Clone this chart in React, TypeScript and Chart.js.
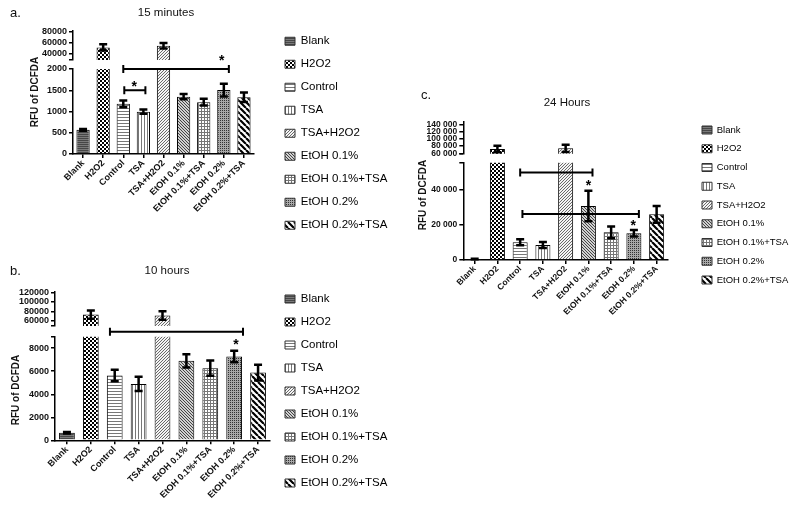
import { useEffect, useRef } from "react";
import { Chart, registerables } from "chart.js";

Chart.register(...registerables);

const FONT = "'Liberation Sans', Arial, sans-serif";

// categories shared by the three panels
const categories = [
  "Blank",
  "H2O2",
  "Control",
  "TSA",
  "TSA+H2O2",
  "EtOH 0.1%",
  "EtOH 0.1%+TSA",
  "EtOH 0.2%",
  "EtOH 0.2%+TSA",
];

// a. 15 minutes
const valuesA = [570, 52000, 1180, 995, 55000, 1350, 1220, 1505, 1335];
const errorsA = [20, 5500, 80, 50, 5000, 60, 80, 150, 110];
const lowTicksA = [0, 500, 1000, 1500, 2000];
const highTicksA = [40000, 60000, 80000];
const bracketsA: [number, number, number][] = [
  [2, 7.25, 2000],
  [2.05, 3.1, 1500],
];
const starsA: [number, number][] = [
  [6.9, 2280],
  [2.55, 1670],
];

// b. 10 hours
const valuesB = [660, 73000, 5620, 4900, 71000, 6900, 6270, 7270, 5880];
const errorsB = [60, 9000, 500, 620, 9000, 580, 670, 500, 680];
const lowTicksB = [0, 2000, 4000, 6000, 8000];
const highTicksB = [60000, 80000, 100000, 120000];
const bracketsB: [number, number, number][] = [[1.8, 7.37, 9420]];
const starsB: [number, number][] = [[7.08, 8640]];

// c. 24 Hours
const valuesC = [600, 72000, 10100, 8600, 74000, 30900, 15800, 15300, 26100];
const errorsC = [150, 9000, 1700, 1700, 10000, 8700, 3300, 1900, 4800];
const lowTicksC = [0, 20000, 40000];
const highTicksC = [60000, 80000, 100000, 120000, 140000];
const bracketsC: [number, number, number][] = [
  [2.0, 5.18, 50000],
  [2.1, 7.22, 26300],
];
const starsC: [number, number][] = [
  [5.0, 44400],
  [6.97, 21900],
];

function tile(size: number, paint: (c: CanvasRenderingContext2D) => void) {
  const cv = document.createElement("canvas");
  cv.width = size;
  cv.height = size;
  const c = cv.getContext("2d")!;
  paint(c);
  return c.createPattern(cv, "repeat")!;
}

function makePatterns(): CanvasPattern[] {
  const bg = (c: CanvasRenderingContext2D, s: number, col: string) => {
    c.fillStyle = col;
    c.fillRect(0, 0, s, s);
  };
  return [
    tile(2, (c) => {
      bg(c, 2, "#7a7a7a");
      c.fillStyle = "#474747";
      c.fillRect(0, 0, 2, 1);
    }),
    tile(4, (c) => {
      bg(c, 4, "#fff");
      c.fillStyle = "#000";
      c.fillRect(0, 0, 2, 2);
      c.fillRect(2, 2, 2, 2);
    }),
    tile(3, (c) => {
      bg(c, 3, "#fff");
      c.fillStyle = "#777";
      c.fillRect(0, 0, 3, 1);
    }),
    tile(3, (c) => {
      bg(c, 3, "#fff");
      c.fillStyle = "#777";
      c.fillRect(0, 0, 1, 3);
    }),
    tile(3, (c) => {
      bg(c, 3, "#f4f4f4");
      c.fillStyle = "#6a6a6a";
      c.fillRect(2, 0, 1, 1);
      c.fillRect(1, 1, 1, 1);
      c.fillRect(0, 2, 1, 1);
    }),
    tile(3, (c) => {
      bg(c, 3, "#d0d0d0");
      c.fillStyle = "#444";
      c.fillRect(0, 0, 1, 1);
      c.fillRect(1, 1, 1, 1);
      c.fillRect(2, 2, 1, 1);
    }),
    tile(3, (c) => {
      bg(c, 3, "#fff");
      c.fillStyle = "#777";
      c.fillRect(0, 0, 3, 1);
      c.fillRect(0, 0, 1, 3);
    }),
    tile(2, (c) => {
      bg(c, 2, "#a8a8a8");
      c.fillStyle = "#333";
      c.fillRect(0, 0, 1, 1);
    }),
    tile(6, (c) => {
      bg(c, 6, "#fff");
      c.strokeStyle = "#000";
      c.lineWidth = 2.2;
      c.beginPath();
      for (const k of [-6, 0, 6]) {
        c.moveTo(k, 0);
        c.lineTo(k + 6, 6);
      }
      c.stroke();
    }),
  ];
}

interface Geometry {
  left: number;
  top: number;
  width: number;
  height: number;
  padTop: number;
  spacer: number;
  high: number;
  gap: number;
  low: number;
  axisW: number;
  plotRight: number;
  rightGap: number;
}

interface PanelProps {
  g: Geometry;
  values: number[];
  errors: number[];
  lowTicks: number[];
  highTicks: number[];
  lowMax: number;
  highMin: number;
  highMax: number;
  brackets: [number, number, number][];
  stars: [number, number][];
  letter: string;
  letterPos: [number, number];
  title: string;
  titlePos: [number, number];
  yTitlePos: [number, number];
  tickSize: number;
  xTickSize: number;
  legendSize: number;
  legendPad: number;
  spaced: boolean;
}

function Panel(p: PanelProps) {
  const canvasRef = useRef<HTMLCanvasElement | null>(null);
  const chartRef = useRef<Chart | null>(null);

  useEffect(() => {
    if (!canvasRef.current) return;
    if (chartRef.current) chartRef.current.destroy();
    const g = p.g;
    const pats = makePatterns();
    const bottom = g.padTop + g.spacer + g.high + g.gap + g.low;
    const xH = g.height - bottom;
    // the legend fills everything right of the gap
    const legendW = g.width - g.plotRight - g.rightGap;
    const fmt = (v: number) =>
      p.spaced ? v.toLocaleString("en-US").replace(/,/g, " ") : String(v);

    const axisGrid = {
      display: true,
      drawOnChartArea: false,
      drawTicks: true,
      tickLength: 4,
      color: "#000",
      lineWidth: 1.5,
    };
    const axisBorder = { display: true, color: "#000", width: 1.5 };
    const tickFont = { family: FONT, size: p.tickSize, weight: "bold" as const };

    const lin = (extra: Record<string, unknown>) => ({
      type: "linear" as const,
      position: "left" as const,
      stack: "left",
      border: { display: false },
      grid: { display: false },
      ticks: { display: false },
      afterFit: (s: any) => {
        s.width = g.axisW;
      },
      ...extra,
    });

    const highData = p.values.map((v) => (v > p.lowMax ? v : null));

    const overlay = {
      id: "overlay",
      beforeLayout(chart: any) {
        const lg = chart.legend;
        if (lg && !lg._fixedW) {
          const fit = lg.fit.bind(lg);
          lg.fit = () => {
            fit();
            lg.width = legendW;
          };
          lg._fixedW = true;
        }
      },
      afterDatasetsDraw(chart: Chart) {
        const ctx = chart.ctx;
        const xs = chart.scales.x;
        const lo = chart.scales.yLow;
        const hi = chart.scales.yHigh;
        ctx.save();
        ctx.strokeStyle = "#000";
        ctx.lineWidth = 2.5;
        p.values.forEach((v, i) => {
          const sc = v > p.lowMax ? hi : lo;
          const x = xs.getPixelForValue(i);
          const yT = sc.getPixelForValue(v + p.errors[i]);
          const yB = sc.getPixelForValue(v - p.errors[i]);
          const cl = (y: number) => Math.min(Math.max(y, sc.top), sc.bottom);
          ctx.beginPath();
          ctx.moveTo(x, cl(yT));
          ctx.lineTo(x, cl(yB));
          if (yT >= sc.top) {
            ctx.moveTo(x - 4, yT);
            ctx.lineTo(x + 4, yT);
          }
          if (yB <= sc.bottom) {
            ctx.moveTo(x - 4, yB);
            ctx.lineTo(x + 4, yB);
          }
          ctx.stroke();
        });
        ctx.lineWidth = 2;
        p.brackets.forEach(([a, b, val]) => {
          const y = lo.getPixelForValue(val);
          const x1 = xs.getPixelForValue(a);
          const x2 = xs.getPixelForValue(b);
          ctx.beginPath();
          ctx.moveTo(x1, y);
          ctx.lineTo(x2, y);
          ctx.moveTo(x1, y - 4);
          ctx.lineTo(x1, y + 4);
          ctx.moveTo(x2, y - 4);
          ctx.lineTo(x2, y + 4);
          ctx.stroke();
        });
        ctx.fillStyle = "#000";
        ctx.font = `bold 14px ${FONT}`;
        ctx.textAlign = "center";
        ctx.textBaseline = "alphabetic";
        p.stars.forEach(([a, val]) => {
          ctx.fillText("*", xs.getPixelForValue(a), lo.getPixelForValue(val) + 8);
        });
        ctx.restore();
      },
      afterDraw(chart: Chart) {
        const ctx = chart.ctx;
        ctx.save();
        ctx.fillStyle = "#111";
        ctx.textBaseline = "middle";
        ctx.font = `13px ${FONT}`;
        ctx.textAlign = "left";
        ctx.fillText(p.letter, p.letterPos[0], p.letterPos[1]);
        ctx.font = `11.5px ${FONT}`;
        ctx.textAlign = "center";
        ctx.fillText(p.title, p.titlePos[0], p.titlePos[1]);
        ctx.translate(p.yTitlePos[0], p.yTitlePos[1]);
        ctx.rotate(-Math.PI / 2);
        ctx.font = `bold 10px ${FONT}`;
        ctx.fillText("RFU of DCFDA", 0, 0);
        ctx.restore();
      },
    };

    chartRef.current = new Chart(canvasRef.current, {
      type: "bar",
      data: {
        labels: categories,
        datasets: [
          {
            label: "low",
            data: p.values,
            yAxisID: "yLow",
            backgroundColor: pats,
            borderColor: "#000",
            borderWidth: 1,
            barPercentage: 0.66,
            categoryPercentage: 1,
            grouped: false,
          },
          {
            label: "high",
            data: highData,
            yAxisID: "yHigh",
            backgroundColor: pats,
            borderColor: "#000",
            borderWidth: 1,
            barPercentage: 0.66,
            categoryPercentage: 1,
            grouped: false,
          },
        ],
      },
      options: {
        responsive: false,
        animation: false,
        events: [],
        layout: { padding: { top: g.padTop, left: 0, bottom: 0, right: 0 } },
        plugins: {
          tooltip: { enabled: false },
          legend: {
            display: true,
            position: "right",
            align: "start",
            labels: {
              boxWidth: 10,
              boxHeight: 8,
              padding: p.legendPad,
              color: "#222",
              font: { family: FONT, size: p.legendSize },
              generateLabels: () =>
                categories.map((c, i) => ({
                  text: c,
                  fillStyle: pats[i] as any,
                  strokeStyle: "#333",
                  lineWidth: 1,
                  hidden: false,
                  datasetIndex: 0,
                  index: i,
                })),
            },
          },
        },
        scales: {
          x: {
            type: "category",
            offset: true,
            grid: { ...axisGrid, offset: false },
            border: axisBorder,
            ticks: {
              autoSkip: false,
              minRotation: 45,
              maxRotation: 45,
              padding: 0,
              color: "#111",
              font: { family: FONT, size: p.xTickSize, weight: "bold" },
            },
            afterFit: (s: any) => {
              s.height = xH;
            },
          },
          ySp: lin({ weight: 4, stackWeight: g.spacer, min: 0, max: 1 }),
          yHigh: lin({
            weight: 3,
            stackWeight: g.high,
            min: p.highMin,
            max: p.highMax,
            border: axisBorder,
            grid: axisGrid,
            ticks: {
              display: true,
              autoSkip: false,
              padding: 2,
              color: "#111",
              font: tickFont,
              callback: (v: any) => (p.highTicks.includes(v) ? fmt(v) : ""),
            },
            afterBuildTicks: (s: any) => {
              s.ticks = [p.highMin, ...p.highTicks].map((v) => ({ value: v }));
            },
          }),
          yGap: lin({ weight: 2, stackWeight: g.gap, min: 0, max: 1 }),
          yLow: lin({
            weight: 1,
            stackWeight: g.low,
            min: 0,
            max: p.lowMax,
            border: axisBorder,
            grid: axisGrid,
            ticks: {
              display: true,
              autoSkip: false,
              padding: 2,
              color: "#111",
              font: tickFont,
              callback: (v: any) => (p.lowTicks.includes(v) ? fmt(v) : ""),
            },
            afterBuildTicks: (s: any) => {
              const list = p.lowTicks.includes(p.lowMax)
                ? p.lowTicks
                : [...p.lowTicks, p.lowMax];
              s.ticks = list.map((v) => ({ value: v }));
            },
          }),
          yR: {
            type: "linear",
            position: "right",
            min: 0,
            max: 1,
            border: { display: false },
            grid: { display: false },
            ticks: { display: false },
            afterFit: (s: any) => {
              s.width = g.rightGap;
            },
          },
        },
      } as any,
      plugins: [overlay],
    });

    return () => {
      if (chartRef.current) {
        chartRef.current.destroy();
        chartRef.current = null;
      }
    };
  }, []);

  return (
    <canvas
      ref={canvasRef}
      width={p.g.width}
      height={p.g.height}
      style={{ position: "absolute", left: p.g.left, top: p.g.top }}
    />
  );
}

export default function App() {
  return (
    <div
      style={{
        position: "absolute",
        left: 0,
        top: 0,
        width: 800,
        height: 508,
        background: "#fff",
        overflow: "hidden",
      }}
    >
      <Panel
        g={{
          left: 0, top: 0, width: 404, height: 250,
          padTop: 24, spacer: 7, high: 29, gap: 9, low: 85,
          axisW: 73, plotRight: 254, rightGap: 19.5,
        }}
        values={valuesA}
        errors={errorsA}
        lowTicks={lowTicksA}
        highTicks={highTicksA}
        lowMax={2000}
        highMin={29100}
        highMax={81800}
        brackets={bracketsA}
        stars={starsA}
        letter="a."
        letterPos={[10, 13]}
        title="15 minutes"
        titlePos={[166, 13]}
        yTitlePos={[35, 92]}
        tickSize={9}
        xTickSize={9}
        legendSize={11.5}
        legendPad={11.5}
        spaced={false}
      />
      <Panel
        g={{
          left: 0, top: 250, width: 404, height: 258,
          padTop: 31.75, spacer: 9.95, high: 34.3, gap: 10.7, low: 103.6,
          axisW: 55, plotRight: 270, rightGap: 3.5,
        }}
        values={valuesB}
        errors={errorsB}
        lowTicks={lowTicksB}
        highTicks={highTicksB}
        lowMax={9000}
        highMin={48600}
        highMax={122100}
        brackets={bracketsB}
        stars={starsB}
        letter="b."
        letterPos={[10, 21]}
        title="10 hours"
        titlePos={[167, 21]}
        yTitlePos={[16, 140]}
        tickSize={9}
        xTickSize={9}
        legendSize={11.5}
        legendPad={11.5}
        spaced={false}
      />
      <Panel
        g={{
          left: 400, top: 80, width: 400, height: 250,
          padTop: 36, spacer: 6, high: 31.7, gap: 9, low: 97.3,
          axisW: 63.3, plotRight: 268, rightGap: 24.75,
        }}
        values={valuesC}
        errors={errorsC}
        lowTicks={lowTicksC}
        highTicks={highTicksC}
        lowMax={55600}
        highMin={58900}
        highMax={147500}
        brackets={bracketsC}
        stars={starsC}
        letter="c."
        letterPos={[21, 15]}
        title="24 Hours"
        titlePos={[167, 23]}
        yTitlePos={[23, 115]}
        tickSize={8.5}
        xTickSize={8.5}
        legendSize={9.5}
        legendPad={9.25}
        spaced={true}
      />
    </div>
  );
}
